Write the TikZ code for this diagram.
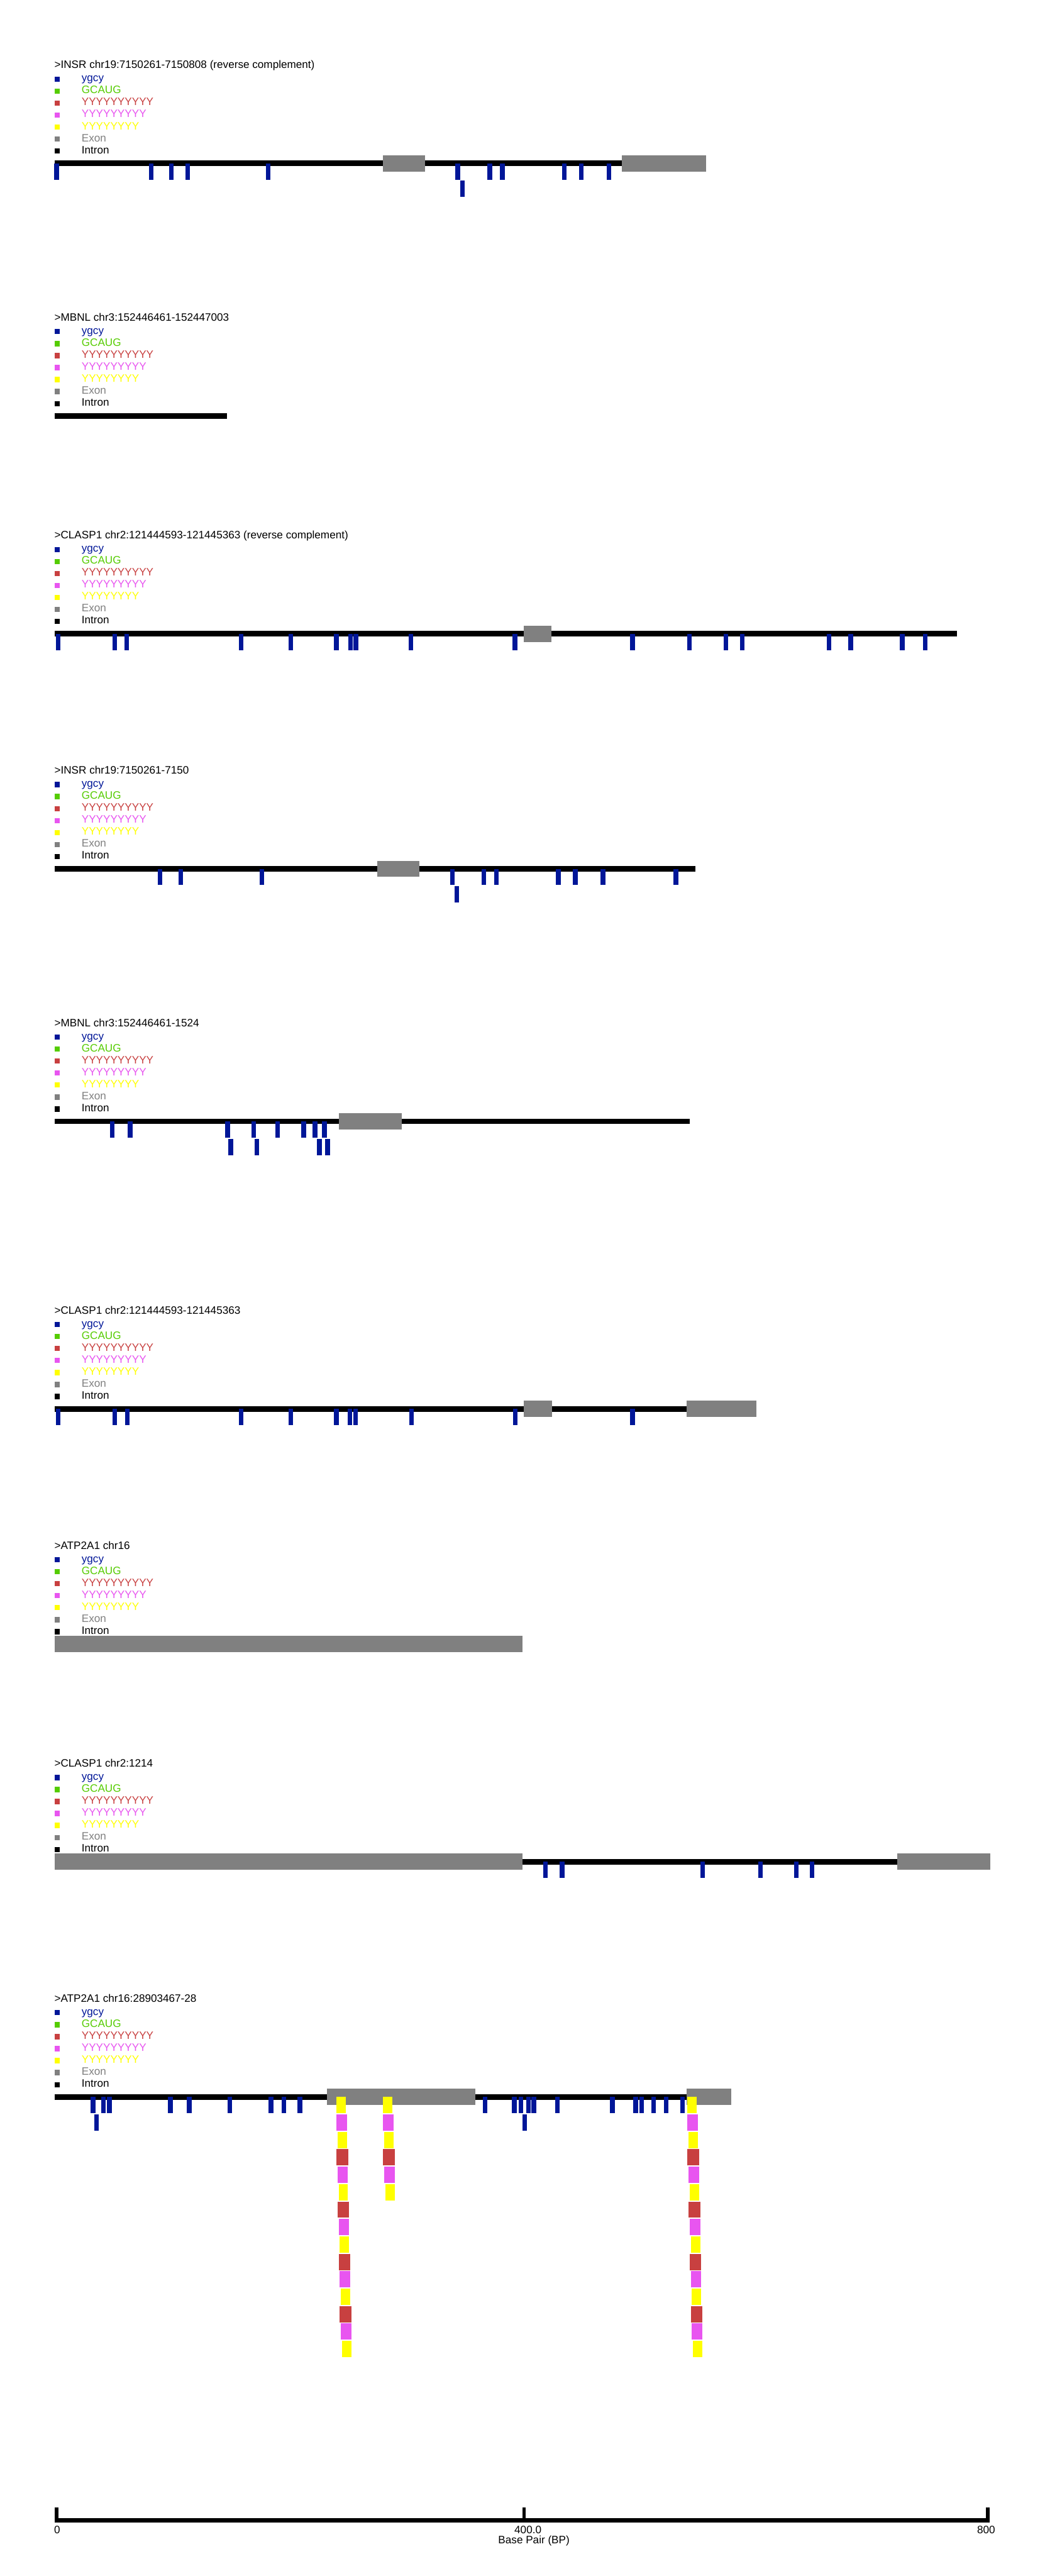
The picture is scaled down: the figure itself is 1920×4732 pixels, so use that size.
\documentclass[tikz,border=0pt]{standalone}
\usepackage{fontspec}
\setmainfont{Liberation Sans}
\definecolor{cBlue}{RGB}{0,22,152}
\definecolor{cGreen}{RGB}{85,204,0}
\definecolor{cRed}{RGB}{200,64,64}
\definecolor{cMag}{RGB}{232,85,240}
\definecolor{cYel}{RGB}{255,255,0}
\definecolor{cGray}{RGB}{128,128,128}
\tikzset{
  lbl/.style={anchor=base west, inner sep=0pt, outer sep=0pt, font=\fontsize{9.9pt}{11pt}\selectfont},
  axlbl/.style={anchor=base, inner sep=0pt, outer sep=0pt, font=\fontsize{9.9pt}{11pt}\selectfont},
  intronbar/.style={fill=black},
  exonbox/.style={fill=cGray},
  ygcytick/.style={fill=cBlue},
}
% #1 track centre Y, #2 name, #3 title
\newcommand\PanelHead[3]{%
  \node[lbl] (#2-title) at (100,#1-174.3) {#3};
  \foreach \i/\c/\t in {0/cBlue/ygcy,1/cGreen/GCAUG,2/cRed/YYYYYYYYYY,3/cMag/YYYYYYYYY,4/cYel/YYYYYYYY,5/cGray/Exon,6/black/Intron}{
    \fill[\c] (100,#1-159.5+22*\i) rectangle (110,#1-150+22*\i);
    \node[lbl,text=\c] (#2-leg\i) at (150,#1-150+22*\i) {\t};
  }%
}
% ticks: #1 Y, #2 row, #3 list of x centres
\newcommand\Ticks[3]{%
  \foreach \x in {#3}{\fill[ygcytick] (\x-4.3,#1+32*#2) rectangle (\x+4.3,#1+32*#2+30);}%
}
% motif blocks: #1 Y, #2 start x, #3 list macro row/colour/offset/length
\newcommand\Motifs[3]{%
  \foreach \r/\c/\o/\l in #3{\fill[\c] (#2+2.07*\o,#1+32*\r) rectangle (#2+2.07*\o+2.15*\l,#1+32*\r+30);}%
}
\newcommand\RunLong{0/cYel/0/8,1/cMag/0/9,2/cYel/1/8,3/cRed/0/10,4/cMag/1/9,5/cYel/2/8,6/cRed/1/10,7/cMag/2/9,8/cYel/3/8,9/cRed/2/10,10/cMag/3/9,11/cYel/4/8,12/cRed/3/10,13/cMag/4/9,14/cYel/5/8}
\newcommand\RunShort{0/cYel/0/8,1/cMag/0/9,2/cYel/1/8,3/cRed/0/10,4/cMag/1/9,5/cYel/2/8}
\begin{document}
\begin{tikzpicture}[x=0.5pt,y=-0.5pt]
\useasboundingbox (0,0) rectangle (1920,4732);
\fill[white] (0,0) rectangle (1920,4732);

% ---------- Panel 1 ----------
\PanelHead{300}{p1}{>INSR chr19:7150261-7150808 (reverse complement)}
\fill[intronbar] (100,295) rectangle (1143,305);
\fill[exonbox] (704,285) rectangle (781,315);
\fill[exonbox] (1143,285) rectangle (1297,315);
\Ticks{300}{0}{104,278,315,345,493,841,900,923,1037,1068,1119}
\Ticks{300}{1}{850}

% ---------- Panel 2 ----------
\PanelHead{764}{p2}{>MBNL chr3:152446461-152447003}
\fill[intronbar] (100,759) rectangle (417,769);

% ---------- Panel 3 ----------
\PanelHead{1164}{p3}{>CLASP1 chr2:121444593-121445363 (reverse complement)}
\fill[intronbar] (100,1159) rectangle (1758,1169);
\fill[exonbox] (962,1149) rectangle (1013,1179);
\Ticks{1164}{0}{107,211,233,443,534,618,644,654,755,946,1162,1267,1334,1364,1523,1563,1658,1700}

% ---------- Panel 4 ----------
\PanelHead{1596}{p4}{>INSR chr19:7150261-7150}
\fill[intronbar] (100,1591) rectangle (1278,1601);
\fill[exonbox] (693,1581) rectangle (770,1611);
\Ticks{1596}{0}{294,332,481,831,889,912,1026,1057,1108,1242}
\Ticks{1596}{1}{839.5}

% ---------- Panel 5 ----------
\PanelHead{2060}{p5}{>MBNL chr3:152446461-1524}
\fill[intronbar] (100,2055) rectangle (1267,2065);
\fill[exonbox] (623,2045) rectangle (738,2075);
\Ticks{2060}{0}{206,239,418,466,510,558,579,596}
\Ticks{2060}{1}{424,472,587,602}

% ---------- Panel 6 ----------
\PanelHead{2588}{p6}{>CLASP1 chr2:121444593-121445363}
\fill[intronbar] (100,2583) rectangle (1261,2593);
\fill[exonbox] (962,2573) rectangle (1014,2603);
\fill[exonbox] (1261,2573) rectangle (1390,2603);
\Ticks{2588}{0}{107,211,234,443,534,618,643,653,756,947,1162}

% ---------- Panel 7 ----------
\PanelHead{3020}{p7}{>ATP2A1 chr16}
\fill[exonbox] (100,3005) rectangle (960,3035);

% ---------- Panel 8 ----------
\PanelHead{3420}{p8}{>CLASP1 chr2:1214}
\fill[intronbar] (960,3415) rectangle (1648,3425);
\fill[exonbox] (100,3405) rectangle (960,3435);
\fill[exonbox] (1648,3405) rectangle (1820,3435);
\Ticks{3420}{0}{1002,1033,1291,1397,1463,1492}

% ---------- Panel 9 ----------
\PanelHead{3852}{p9}{>ATP2A1 chr16:28903467-28}
\fill[intronbar] (100,3847) rectangle (1261,3857);
\fill[exonbox] (601,3837) rectangle (873,3867);
\fill[exonbox] (1261,3837) rectangle (1343,3867);
\Ticks{3852}{0}{171,190,201,313,347.5,422.5,497.7,521.3,551.3,891,945,957,971,981,1024,1125,1168,1179,1201,1224,1254}
\Ticks{3852}{1}{177.5,964}
\Motifs{3852}{618}{\RunLong}
\Motifs{3852}{704}{\RunShort}
\Motifs{3852}{1263}{\RunLong}

% ---------- Axis ----------
\fill (100,4626) rectangle (1818,4634);
\fill (101,4606) rectangle (107,4634);
\fill (960,4606) rectangle (966,4634);
\fill (1812,4606) rectangle (1818,4634);
\node[axlbl] (ax0) at (105,4654) {0};
\node[axlbl] (ax400) at (970,4654) {400.0};
\node[axlbl] (ax800) at (1812,4654) {800};
\node[axlbl] (axtitle) at (981,4673) {Base Pair (BP)};
\end{tikzpicture}
\end{document}
